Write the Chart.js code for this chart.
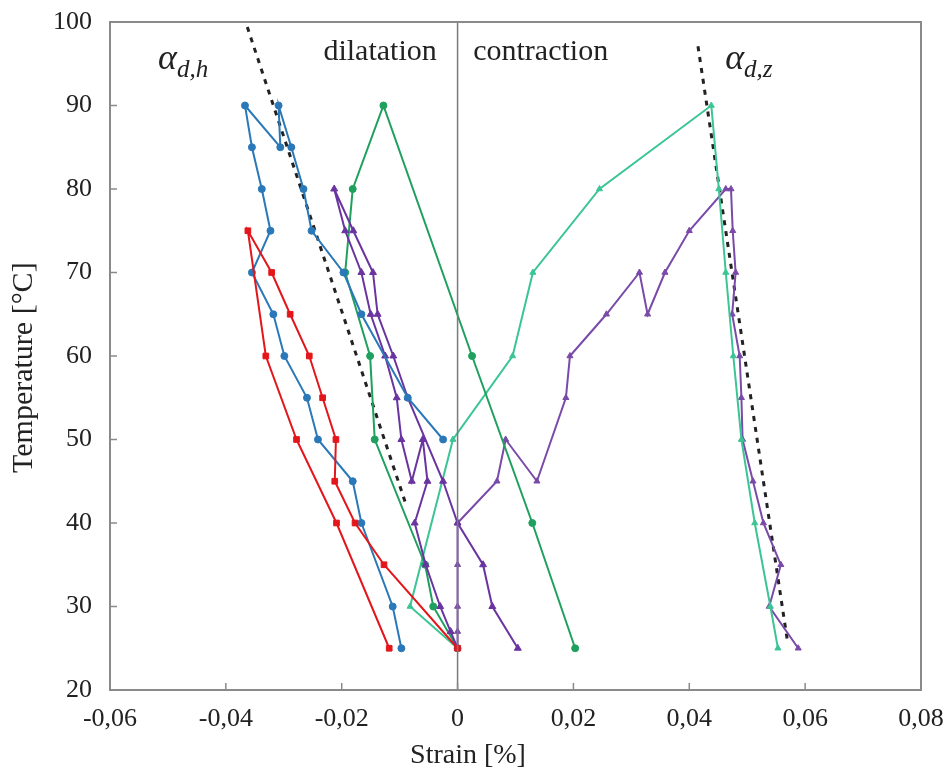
<!DOCTYPE html>
<html>
<head>
<meta charset="utf-8">
<script src="https://cdn.jsdelivr.net/npm/chart.js@4.4.1/dist/chart.umd.min.js"></script>
<style>
html,body{margin:0;padding:0;background:#fff;}
#wrap{width:947px;height:783px;position:relative;}
</style>
</head>
<body>
<div id="wrap"><canvas id="c" width="947" height="783"></canvas></div>
<script>
// ---- data (strain in %, temperature in °C) ----
const xTicks = [-0.06, -0.04, -0.02, 0, 0.02, 0.04, 0.06, 0.08];
const yTicks = [20, 30, 40, 50, 60, 70, 80, 90, 100];
const xTitle = 'Strain [%]';
const yTitle = 'Temperature [°C]';

const redT = [25, 35, 40, 45, 50, 55, 60, 65, 70, 75, 60, 50, 40, 25];
const redS = [0, -0.0127, -0.0177, -0.0212, -0.0210, -0.0233, -0.0256, -0.0289, -0.0321, -0.0362, -0.0331, -0.0278, -0.0209, -0.0118];

const blueT = [25, 30, 40, 45, 50, 55, 60, 65, 70, 75, 80, 85, 90, 85, 90, 85, 80, 75, 70, 65, 55, 50];
const blueS = [-0.0097, -0.0112, -0.0166, -0.0181, -0.0241, -0.0260, -0.0299, -0.0318, -0.0355, -0.0323, -0.0338, -0.0355, -0.0367, -0.0306, -0.0309, -0.0287, -0.0266, -0.0252, -0.0197, -0.0166, -0.0086, -0.0025];

const greenT = [25, 30, 35, 50, 60, 70, 80, 90, 60, 40, 25];
const greenS = [0, -0.0042, -0.0056, -0.0143, -0.0151, -0.0194, -0.0181, -0.0128, 0.0025, 0.0129, 0.0203];

const mintT = [25, 30, 50, 60, 70, 80, 90, 80, 70, 60, 50, 40, 30, 25];
const mintS = [0, -0.0082, -0.0008, 0.0095, 0.0130, 0.0245, 0.0438, 0.0451, 0.0463, 0.0476, 0.0490, 0.0513, 0.0540, 0.0553];

const purpleAT = [25, 30, 35, 40, 45, 55, 60, 65, 70, 75, 80, 75, 70, 65, 60, 55, 50, 45, 50, 45, 40, 35, 30, 27, 25];
const purpleAS = [0.0104, 0.0060, 0.0044, 0.0, -0.0025, -0.0086, -0.0111, -0.0138, -0.0146, -0.0180, -0.0213, -0.0194, -0.0166, -0.0150, -0.0125, -0.0105, -0.0097, -0.0079, -0.0060, -0.0052, -0.0074, -0.0055, -0.0030, -0.0012, 0];

const purpleBT = [25, 27, 30, 35, 40, 45, 50, 45, 55, 60, 65, 70, 65, 70, 75, 80, 80, 75, 70, 65, 60, 55, 50, 45, 40, 35, 30, 25];
const purpleBS = [0, 0, 0, 0, 0, 0.0068, 0.0083, 0.0137, 0.0187, 0.0194, 0.0257, 0.0314, 0.0328, 0.0358, 0.0400, 0.0463, 0.0472, 0.0475, 0.0480, 0.0474, 0.0487, 0.0490, 0.0492, 0.0510, 0.0528, 0.0558, 0.0538, 0.0588];

const fitHT = [99.4, 42];
const fitHS = [-0.0363, -0.0088];
const fitZT = [97.1, 25.6];
const fitZS = [0.0415, 0.0570];

const zeroT = [20, 100];
const zeroS = [0, 0];

function pts(S, T) { return S.map((s, i) => ({x: s, y: T[i]})); }

const SERIF = "'Liberation Serif', 'DejaVu Serif', serif";

function series(label, S, T, color, style, r) {
  return {
    label, data: pts(S, T), showLine: true, borderColor: color, backgroundColor: color,
    borderWidth: 2, pointStyle: style, pointRadius: r, pointBorderWidth: 1, pointHoverRadius: r
  };
}

const datasets = [
  {label: 'zero', data: pts(zeroS, zeroT), showLine: true, borderColor: '#7a7a7a', borderWidth: 1.5, pointRadius: 0},
  series('red', redS, redT, '#e3161b', 'rect', 4),
  series('blue', blueS, blueT, '#2a78b8', 'circle', 3.5),
  series('purpleA', purpleAS, purpleAT, '#6a34a0', 'triangle', 4),
  series('green', greenS, greenT, '#1fa05e', 'circle', 3.5),
  series('mint', mintS, mintT, '#3cc594', 'triangle', 3.5),
  series('purpleB', purpleBS, purpleBT, '#7a4aa8', 'triangle', 3.5),
  {label: 'fitH', data: pts(fitHS, fitHT), showLine: true, borderColor: '#222', borderWidth: 3, borderDash: [5, 6], pointRadius: 0},
  {label: 'fitZ', data: pts(fitZS, fitZT), showLine: true, borderColor: '#222', borderWidth: 3, borderDash: [5, 6], pointRadius: 0}
];

function fmt(v) {
  const r = Math.round(v * 100) / 100;
  if (Math.abs(r) < 1e-9) return '0';
  return r.toFixed(2).replace('.', ',');
}

const frame = {
  id: 'frame',
  afterDraw(chart) {
    const {ctx, chartArea: a, scales: {x, y}} = chart;
    ctx.save();
    ctx.strokeStyle = '#8a8a8a';
    ctx.lineWidth = 2;
    ctx.strokeRect(a.left, a.top, a.right - a.left, a.bottom - a.top);
    ctx.lineWidth = 1.5;
    ctx.beginPath();
    xTicks.forEach(v => { const px = x.getPixelForValue(v); ctx.moveTo(px, a.bottom); ctx.lineTo(px, a.bottom - 7); });
    yTicks.forEach(v => { const py = y.getPixelForValue(v); ctx.moveTo(a.left, py); ctx.lineTo(a.left + 7, py); });
    ctx.stroke();
    // annotations
    ctx.fillStyle = '#222';
    ctx.textBaseline = 'alphabetic';
    ctx.font = "30px " + SERIF;
    ctx.textAlign = 'right';
    ctx.fillText('dilatation', x.getPixelForValue(-0.0036), y.getPixelForValue(95.5));
    ctx.textAlign = 'left';
    ctx.fillText('contraction', x.getPixelForValue(0.0027), y.getPixelForValue(95.5));
    function alpha(px, py, sub) {
      ctx.textAlign = 'left';
      ctx.font = "italic 36px " + SERIF;
      ctx.fillText('\u03b1', px, py);
      const w = ctx.measureText('\u03b1').width;
      ctx.font = "italic 25px " + SERIF;
      ctx.fillText(sub, px + w, py + 8);
    }
    alpha(x.getPixelForValue(-0.0517), y.getPixelForValue(94.4), 'd,h');
    alpha(x.getPixelForValue(0.0462), y.getPixelForValue(94.4), 'd,z');
    // axis titles
    ctx.textAlign = 'center';
    ctx.textBaseline = 'middle';
    ctx.font = "28px " + SERIF;
    ctx.fillText(xTitle, x.getPixelForValue(0.0018), 756);
    ctx.save();
    ctx.translate(24, y.getPixelForValue(58.6));
    ctx.rotate(-Math.PI / 2);
    ctx.font = "30px " + SERIF;
    ctx.fillText(yTitle, 0, 0);
    ctx.restore();
    ctx.restore();
  }
};

new Chart(document.getElementById('c'), {
  type: 'scatter',
  data: {datasets},
  options: {
    responsive: false,
    animation: false,
    layout: {padding: {top: 22, right: 26, left: 0, bottom: 0}},
    plugins: {legend: {display: false}, tooltip: {enabled: false}},
    scales: {
      x: {
        type: 'linear', min: -0.06, max: 0.08,
        afterBuildTicks: s => { s.ticks = xTicks.map(v => ({value: v})); },
        afterFit: s => { s.height = 93; s.paddingLeft = 0; s.paddingRight = 0; },
        grid: {display: false, drawTicks: false},
        border: {display: false},
        ticks: {callback: v => fmt(v), color: '#222', font: {family: SERIF, size: 26}, padding: 14, maxRotation: 0},
        title: {display: false}
      },
      y: {
        type: 'linear', min: 20, max: 100,
        afterBuildTicks: s => { s.ticks = yTicks.map(v => ({value: v})); },
        afterFit: s => { s.width = 110; s.paddingTop = 0; s.paddingBottom = 0; },
        grid: {display: false, drawTicks: false},
        border: {display: false},
        ticks: {callback: v => String(v), color: '#222', font: {family: SERIF, size: 26}, padding: 18},
        title: {display: false}
      }
    }
  },
  plugins: [frame]
});
</script>
</body>
</html>
